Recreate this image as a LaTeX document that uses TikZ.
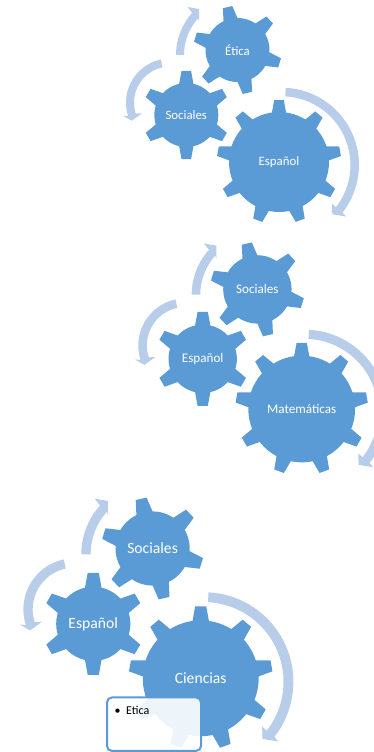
\documentclass[tikz,border=0pt]{standalone}
\usepackage{fontspec}
\setmainfont{Carlito}
\definecolor{gearblue}{HTML}{5B9BD5}
\definecolor{arrowblue}{HTML}{B7CDE9}
\newcommand{\gearpt}{12}
\tikzset{
  x=1pt,y=1pt,
  geartext/.style={text=white,font=\fontsize{\gearpt}{14}\selectfont,transform shape,inner sep=0pt},
  notebox/.style={draw=gearblue,line width=2pt,fill=white,fill opacity=.9,rounded corners=5pt,inner sep=0pt},
  notetext/.style={text=black,font=\fontsize{12}{14}\selectfont,inner sep=0pt,anchor=west}
}
% name, cx, cy, body radius, outer radius, teeth, offset, label
\newcommand{\cog}[8]{%
  \begin{scope}[shift={(#2,#3)}]
    \fill[gearblue] (0,0) circle[radius=#4];
    \pgfmathsetmacro{\stepang}{360/#6}
    \foreach \k in {1,...,#6}{%
      \pgfmathsetmacro{\ang}{#7+\k*\stepang}
      \begin{scope}[rotate=\ang]
        \fill[gearblue] (#4-4,-7.5) -- (#4,-7) -- (#5,-4.8) -- (#5,4.8) -- (#4,7) -- (#4-4,7.5) -- cycle;
      \end{scope}
    }
    \node[geartext] (#1) at (0,0) {#8};
  \end{scope}}
% cx, cy, r, w, a1, a2, outer wing, tip, inner wing
\newcommand{\bandarrow}[9]{%
  \pgfmathsetmacro{\ro}{#3+#4/2}
  \pgfmathsetmacro{\ri}{#3-#4/2}
  \fill[arrowblue] ({#1+\ro*cos(#5)},{#2+\ro*sin(#5)}) arc[start angle=#5,end angle=#6,radius=\ro]
    -- #7 -- #8 -- #9 -- ({#1+\ri*cos(#6)},{#2+\ri*sin(#6)})
    arc[start angle=#6,end angle=#5,radius=\ri] -- cycle;}
% x, y (pixels from the top), scale, big, left, top, name prefix
\newcommand{\cogset}[7]{%
  \begin{scope}[shift={(#1,-#2)},scale=#3]
    \bandarrow{2.7}{-3}{73}{8.5}{87}{-38}{(67,-54.5)}{(53.3,-52.3)}{(53,-41.5)}
    \bandarrow{-109}{59.5}{40}{8}{102}{198}{(-156,46.3)}{(-147.3,41.3)}{(-137,48.7)}
    \bandarrow{-40}{107}{59}{8}{180}{138}{(-91.5,155)}{(-80,153)}{(-80,140.5)}
    \cog{#7big}{0}{0}{50}{62}{9}{90}{#4}
    \cog{#7left}{-92.7}{47}{32}{44}{6}{90}{#5}
    \cog{#7top}{-41.5}{112}{32}{44}{6}{103}{#6}
  \end{scope}}
\begin{document}
\begin{tikzpicture}
  \useasboundingbox (0,0) rectangle (374,-752);
  \clip (0,0) rectangle (374,-752);
  \renewcommand{\gearpt}{12.8}
  \cogset{279}{162}{1}{Español}{Sociales}{Ética}{a}
  \renewcommand{\gearpt}{12.3}
  \cogset{301.7}{409}{1.068}{Matemáticas}{Español}{Sociales}{b}
  \renewcommand{\gearpt}{13.5}
  \cogset{200.7}{678.3}{1.159}{Ciencias}{Español}{Sociales}{c}
  \node[notebox,minimum width=94pt,minimum height=53.5pt] (box) at (154,-724.2) {};
  \node[notetext] (etica) at (114.5,-710.7) {•\hspace{5.5pt}Etica};
\end{tikzpicture}
\end{document}
